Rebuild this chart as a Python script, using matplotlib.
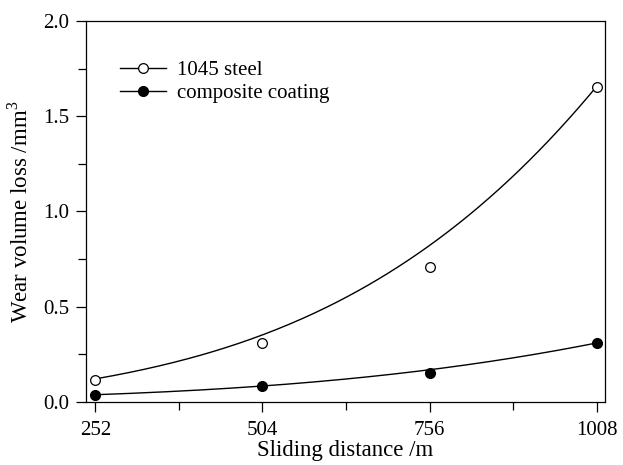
import matplotlib
matplotlib.use("Agg")
import matplotlib.pyplot as plt
import numpy as np
from matplotlib.ticker import MultipleLocator, FixedLocator, FormatStrFormatter

plt.rcParams['font.family'] = ['Liberation Serif', 'DejaVu Serif']
plt.rcParams['mathtext.fontset'] = 'custom'
plt.rcParams['mathtext.rm'] = 'Liberation Serif'

# measured points
distance = [252, 504, 756, 1008]
steel = [0.115, 0.311, 0.707, 1.655]
coating = [0.038, 0.086, 0.154, 0.308]

# fitted trend lines
curve_x = [252, 378, 504, 630, 756, 882, 1008]
steel_curve = [0.12, 0.22, 0.34, 0.57, 0.80, 1.20, 1.655]
coating_curve = [0.037, 0.059, 0.085, 0.119, 0.165, 0.238, 0.308]

fig = plt.figure(figsize=(6.23, 4.65), dpi=100)
ax = fig.add_axes([0.138, 0.1355, 0.833, 0.8195])

# smooth the trend lines with a cubic fit of the read values
xs = np.linspace(252, 1008, 200)
for vals in (steel_curve, coating_curve):
    coef = np.polyfit(curve_x, vals, 3)
    ax.plot(xs, np.polyval(coef, xs), color='black', lw=1.0)

ax.plot(distance, steel, 'o', mfc='white', mec='black', ms=7, mew=0.9)
ax.plot(distance, coating, 'o', mfc='black', mec='black', ms=7)

# legend handles: line with marker in the middle
h1, = ax.plot([], [], '-o', color='black', mfc='white', mec='black', ms=7, mew=0.9, lw=1.0)
h2, = ax.plot([], [], '-o', color='black', mfc='black', ms=7, lw=1.0)
ax.legend([h1, h2], ['1045 steel', 'composite coating'], loc='upper left',
          bbox_to_anchor=(0.03, 0.945), frameon=False, fontsize=15,
          handlelength=2.2, handletextpad=0.5, numpoints=1, labelspacing=0.15)

ax.set_xlim(238, 1020)
ax.set_ylim(0, 2.0)
ax.xaxis.set_major_locator(FixedLocator(distance))
ax.xaxis.set_minor_locator(FixedLocator([378, 630, 882]))
ax.yaxis.set_major_locator(MultipleLocator(0.5))
ax.yaxis.set_minor_locator(MultipleLocator(0.25))
ax.yaxis.set_major_formatter(FormatStrFormatter('%.1f'))
ax.tick_params(which='both', direction='out', top=False, right=False, labelsize=15)
ax.tick_params(which='major', length=7, width=0.9)
ax.tick_params(which='minor', length=6, width=0.9)
ax.tick_params(axis='x', which='major', pad=7)
ax.tick_params(axis='y', which='major', pad=5)
for s in ax.spines.values():
    s.set_linewidth(0.9)

ax.set_xlabel('Sliding distance /m', fontsize=16.5, labelpad=0)
ax.set_ylabel('Wear volume loss /mm$^{\\mathrm{3}}$', fontsize=16.5, labelpad=8)

fig.savefig('out.png', dpi=100)
